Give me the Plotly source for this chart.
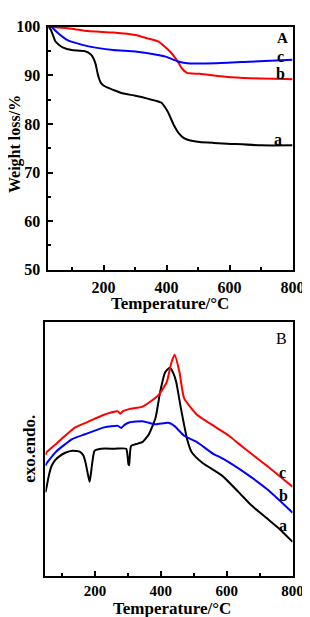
import plotly.graph_objects as go

# ---------------- Panel A (TGA) ----------------
tA_a = [25, 33, 41, 47, 58, 72, 99, 139, 160, 168, 175, 180, 185, 192, 200, 215, 231, 260, 301, 340, 383, 404, 423, 440, 453, 470, 505, 550, 606, 700, 800]
wA_a = [100, 99.3, 98.0, 97.0, 96.3, 95.7, 95.2, 95.0, 94.3, 93.5, 92.3, 90.8, 89.5, 88.4, 87.9, 87.4, 87.0, 86.3, 85.8, 85.2, 84.4, 82.5, 79.8, 78.0, 77.2, 76.7, 76.3, 76.1, 75.9, 75.6, 75.6]

tA_b = [25, 47, 99, 150, 231, 301, 340, 373, 393, 414, 434, 449, 465, 505, 587, 667, 800]
wA_b = [100, 99.9, 99.6, 99.1, 98.8, 98.3, 97.6, 97.0, 96.0, 94.7, 93.0, 91.4, 90.5, 90.3, 89.7, 89.4, 89.2]

tA_c = [25, 35, 41, 57, 87, 149, 231, 301, 373, 400, 434, 465, 556, 662, 800]
wA_c = [100, 99.9, 99.6, 98.6, 97.2, 96.0, 95.2, 94.9, 94.2, 93.8, 92.9, 92.5, 92.5, 92.8, 93.2]

# ---------------- Panel B (DTA, arbitrary units) ----------------
tB_a = [50, 53, 60, 68, 80, 91, 110, 132, 155, 165, 172, 179, 184, 188, 193, 199, 219, 260, 295, 299, 302, 304, 306, 310, 330, 345, 364, 384, 398, 413, 427, 438, 447, 461, 481, 493, 505, 529, 587, 637, 674, 724, 762, 800]
hB_a = [33.0, 34.9, 39.5, 43.3, 45.8, 47.1, 48.6, 49.4, 49.0, 47.5, 44.5, 40.0, 37.2, 40.5, 45.6, 49.4, 50.2, 50.2, 50.2, 47.5, 44.0, 43.7, 47.5, 51.3, 52.2, 52.9, 55.9, 62.3, 72.5, 80.2, 82.1, 80.0, 76.4, 66.2, 53.4, 49.0, 47.1, 44.4, 39.5, 33.0, 28.0, 22.6, 18.4, 13.5]

tB_b = [50, 53, 82, 131, 170, 228, 270, 280, 290, 306, 345, 384, 423, 442, 471, 510, 558, 587, 657, 724, 800]
hB_b = [43.5, 44.4, 49.0, 54.0, 55.9, 58.6, 59.2, 58.4, 59.6, 60.6, 61.0, 59.8, 60.4, 59.1, 55.3, 52.8, 48.3, 46.4, 40.6, 34.1, 25.0]

tB_c = [50, 53, 82, 140, 179, 228, 270, 277, 285, 306, 345, 393, 418, 432, 442, 457, 471, 510, 569, 607, 637, 674, 724, 800]
hB_c = [47.8, 48.7, 52.1, 58.6, 60.8, 63.6, 64.9, 64.0, 65.0, 65.9, 66.8, 71.3, 76.4, 84.0, 87.2, 80.2, 70.0, 63.6, 58.5, 55.3, 52.1, 48.3, 43.3, 35.2]

x_ticks = [200, 400, 600, 800]
yA_ticks = [50, 60, 70, 80, 90, 100]

W, H = 310, 617
def px(x):
    return x / W
def py(y):
    return (H - y) / H

FONT = "Liberation Serif"
fig = go.Figure()
lw = 2
def line(t, v, color, xa, ya):
    fig.add_trace(go.Scatter(x=t, y=v, mode="lines",
                             line=dict(color=color, width=lw, shape="spline", smoothing=0.5),
                             xaxis=xa, yaxis=ya, showlegend=False, hoverinfo="skip"))

line(tA_a, wA_a, "black", "x", "y")
line(tA_b, wA_b, "red", "x", "y")
line(tA_c, wA_c, "blue", "x", "y")
line(tB_a, hB_a, "black", "x2", "y2")
line(tB_b, hB_b, "blue", "x2", "y2")
line(tB_c, hB_c, "red", "x2", "y2")

def axis_common(size):
    return dict(showline=True, linewidth=2, linecolor="black", mirror=True,
                ticks="inside", ticklen=5, tickwidth=1.5, tickcolor="black",
                showgrid=False, zeroline=False,
                tickfont=dict(family=FONT, size=size, color="black", weight="bold"))
minor_x = dict(tickvals=[100, 300, 500, 700], ticks="inside", ticklen=3, tickwidth=1.5, tickcolor="black")

fig.update_layout(
    width=W, height=H,
    margin=dict(l=0, r=0, t=0, b=0),
    paper_bgcolor="white", plot_bgcolor="white",
    xaxis=dict(domain=[px(42), px(296)], range=[25, 800], tickvals=x_ticks, anchor="y",
               ticklabelstandoff=2, minor=minor_x, **axis_common(16)),
    yaxis=dict(domain=[py(261), py(11)], range=[50, 100], tickvals=yA_ticks, anchor="x",
               ticklabelstandoff=3,
               minor=dict(tickvals=[55, 65, 75, 85, 95], ticks="inside", ticklen=3, tickwidth=1.5, tickcolor="black"),
               **axis_common(16)),
    xaxis2=dict(domain=[px(39), px(296)], range=[50, 800], tickvals=x_ticks, anchor="y2",
                minor=minor_x, **axis_common(15)),
    yaxis2=dict(domain=[py(576), py(315)], range=[0, 100], anchor="x2",
                showline=True, linewidth=2, linecolor="black", mirror=True,
                showticklabels=False, ticks="", showgrid=False, zeroline=False),
)

def ann(text, x, y, xref, yref, size=15, bold=True, angle=0):
    fig.add_annotation(text=text, x=x, y=y, xref=xref, yref=yref, showarrow=False,
                       textangle=angle, xanchor="center", yanchor="middle",
                       font=dict(family=FONT, size=size, color="black", weight="bold" if bold else "normal"))

# axis titles
ann("Temperature/°C", px(169), py(296), "paper", "paper", size=17)
ann("Weight loss/%", px(8), py(132), "paper", "paper", size=16, angle=-90)
ann("Temperature/°C", px(171), py(609), "paper", "paper", size=17)
ann("exo.endo.", px(23), py(445), "paper", "paper", size=17, angle=-90)

# curve labels
ann("A", 769, 97.6, "x", "y", size=15)
ann("c", 762, 93.8, "x", "y", size=16)
ann("b", 762, 90.3, "x", "y", size=16)
ann("a", 755, 76.7, "x", "y", size=16)
ann("B", 766, 93.6, "x2", "y2", size=16, bold=False)
ann("c", 770, 40.9, "x2", "y2", size=16)
ann("b", 773, 31.7, "x2", "y2", size=16)
ann("a", 771, 19.9, "x2", "y2", size=16)

fig.write_html("out.html")
